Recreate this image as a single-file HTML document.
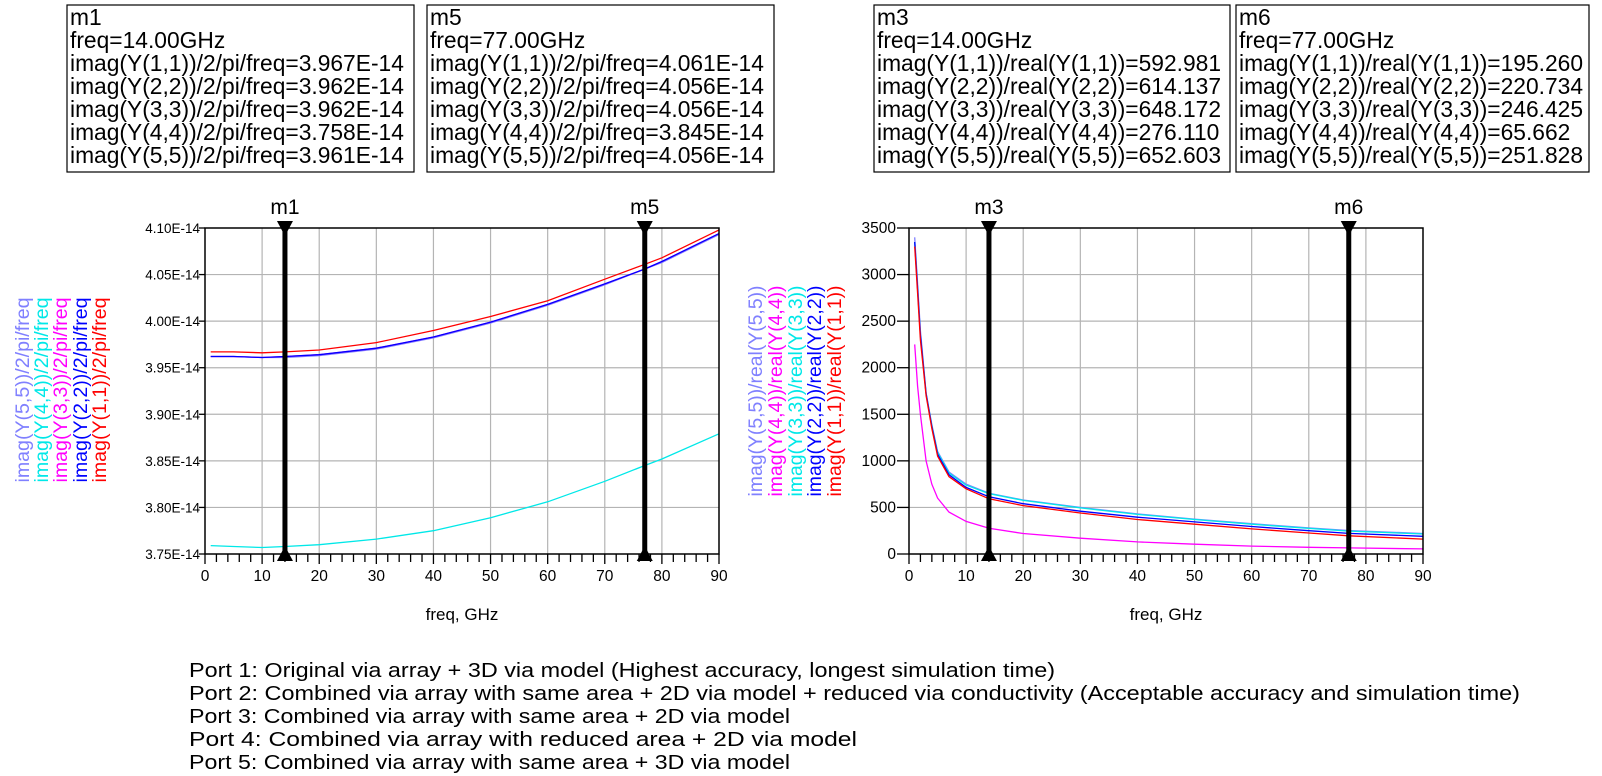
<!DOCTYPE html>
<html><head><meta charset="utf-8"><style>
body{margin:0;background:#fff;width:1602px;height:776px;overflow:hidden}
svg{display:block;font-family:"Liberation Sans",Arial,sans-serif}
</style></head><body>
<svg id="s" width="1602" height="776" viewBox="0 0 1602 776">
<g id="boxes"></g>
<g id="left"></g>
<g id="right"></g>
<g font-size="20" fill="#000">
<text x="189" y="677" textLength="866" lengthAdjust="spacingAndGlyphs">Port 1: Original via array + 3D via model (Highest accuracy, longest simulation time)</text>
<text x="189" y="700" textLength="1331" lengthAdjust="spacingAndGlyphs">Port 2: Combined via array with same area + 2D via model + reduced via conductivity (Acceptable accuracy and simulation time)</text>
<text x="189" y="723" textLength="601" lengthAdjust="spacingAndGlyphs">Port 3: Combined via array with same area + 2D via model</text>
<text x="189" y="746" textLength="668" lengthAdjust="spacingAndGlyphs">Port 4: Combined via array with reduced area + 2D via model</text>
<text x="189" y="769" textLength="601" lengthAdjust="spacingAndGlyphs">Port 5: Combined via array with same area + 3D via model</text>
</g>
</svg>
<script>
// ---- left chart data (imag(Y)/2/pi/freq, units of E-14) ----
const leftFreq = [1,5,10,14,20,30,40,50,60,70,77,80,90];
const leftY11 = [3.967,3.967,3.966,3.967,3.969,3.977,3.990,4.005,4.022,4.045,4.061,4.068,4.098];
const leftY22 = [3.962,3.962,3.961,3.962,3.964,3.971,3.983,3.999,4.018,4.040,4.056,4.064,4.094];
const leftY33 = [3.962,3.962,3.961,3.962,3.964,3.971,3.983,3.999,4.018,4.040,4.056,4.064,4.094];
const leftY44 = [3.759,3.758,3.757,3.758,3.760,3.766,3.775,3.789,3.806,3.828,3.845,3.852,3.879];
const leftY55 = [3.962,3.962,3.961,3.961,3.963,3.970,3.982,3.998,4.017,4.039,4.056,4.063,4.093];
const leftYTicks = [3.75,3.80,3.85,3.90,3.95,4.00,4.05,4.10];
// ---- right chart data (imag(Y)/real(Y)) ----
const rightFreq = [1,1.5,2,3,4,5,7,10,14,20,30,40,50,60,70,77,90];
const rightY11 = [3300,2800,2300,1700,1350,1050,830,700,593,520,440,370,320,270,225,195,160];
const rightY22 = [3350,2850,2350,1720,1370,1070,850,715,614,540,460,395,345,295,250,221,190];
const rightY33 = [3350,2850,2350,1720,1380,1090,870,740,648,575,495,425,370,320,275,246,215];
const rightY44 = [2250,1800,1500,1000,750,600,450,350,276,220,170,130,105,85,72,66,55];
const rightY55 = [3400,2900,2400,1730,1390,1100,880,750,653,580,500,430,375,325,280,252,220];
const rightYTicks = [0,500,1000,1500,2000,2500,3000,3500];
const xTicks = [0,10,20,30,40,50,60,70,80,90];
const markerLeft = [{n:'m1',f:14},{n:'m5',f:77}];
const markerRight = [{n:'m3',f:14},{n:'m6',f:77}];

const NS='http://www.w3.org/2000/svg';
function el(p,t,a,txt){const e=document.createElementNS(NS,t);for(const k in a)e.setAttribute(k,a[k]);if(txt!==undefined)e.textContent=txt;p.appendChild(e);return e;}

const boxes=[
 {x:67,w:347,lines:['m1','freq=14.00GHz','imag(Y(1,1))/2/pi/freq=3.967E-14','imag(Y(2,2))/2/pi/freq=3.962E-14','imag(Y(3,3))/2/pi/freq=3.962E-14','imag(Y(4,4))/2/pi/freq=3.758E-14','imag(Y(5,5))/2/pi/freq=3.961E-14']},
 {x:427,w:347,lines:['m5','freq=77.00GHz','imag(Y(1,1))/2/pi/freq=4.061E-14','imag(Y(2,2))/2/pi/freq=4.056E-14','imag(Y(3,3))/2/pi/freq=4.056E-14','imag(Y(4,4))/2/pi/freq=3.845E-14','imag(Y(5,5))/2/pi/freq=4.056E-14']},
 {x:874,w:356,lines:['m3','freq=14.00GHz','imag(Y(1,1))/real(Y(1,1))=592.981','imag(Y(2,2))/real(Y(2,2))=614.137','imag(Y(3,3))/real(Y(3,3))=648.172','imag(Y(4,4))/real(Y(4,4))=276.110','imag(Y(5,5))/real(Y(5,5))=652.603']},
 {x:1236,w:353,lines:['m6','freq=77.00GHz','imag(Y(1,1))/real(Y(1,1))=195.260','imag(Y(2,2))/real(Y(2,2))=220.734','imag(Y(3,3))/real(Y(3,3))=246.425','imag(Y(4,4))/real(Y(4,4))=65.662','imag(Y(5,5))/real(Y(5,5))=251.828']}
];
const bg=document.getElementById('boxes');
boxes.forEach(b=>{
  const g=el(bg,'g',{});
  
  
  el(g,'rect',{x:b.x,y:5,width:b.w,height:167,fill:'#fff',stroke:'#000','stroke-width':1.2});
  b.lines.forEach((l,i)=>{
    const t=el(g,'text',{x:b.x+3,y:25+i*23,'font-size':22.8,fill:'#000'},l);
    
    
  });
});

function chart(gid,cfg){
  const g=document.getElementById(gid);
  const X0=cfg.x0,X1=cfg.x1,Y0=228,Y1=554;
  const sx=f=>X0+(f-0)/90*(X1-X0);
  const sy=v=>Y1-(v-cfg.ymin)/(cfg.ymax-cfg.ymin)*(Y1-Y0);
  xTicks.forEach(t=>{ if(t>0&&t<90) el(g,'line',{x1:sx(t),x2:sx(t),y1:Y0,y2:Y1,stroke:'#b4b4b4','stroke-width':1.2}); });
  cfg.yticks.forEach(t=>{ if(t>cfg.ymin&&t<cfg.ymax) el(g,'line',{x1:X0,x2:X1,y1:sy(t),y2:sy(t),stroke:'#b4b4b4','stroke-width':1.2}); });
  cfg.yticks.forEach(t=>{
    el(g,'line',{x1:X0-cfg.tick,x2:X0,y1:sy(t),y2:sy(t),stroke:'#000','stroke-width':1.3});
    const tx=el(g,'text',{x:X0-cfg.lab,y:sy(t)+5,'font-size':cfg.yfs,'text-anchor':'end',fill:'#000'},cfg.fmt(t));
    
    
  });
  for(let f=0;f<=90;f+=2){
    el(g,'line',{x1:sx(f),x2:sx(f),y1:Y1,y2:Y1+(f%10===0?10:8),stroke:'#000','stroke-width':1.3});
  }
  xTicks.forEach(t=>{
    const tx=el(g,'text',{x:sx(t),y:Y1+27,'font-size':15.5,'text-anchor':'middle',fill:'#000'},String(t));
    
    
  });
  const xt=el(g,'text',{x:(X0+X1)/2,y:620,'font-size':17,'text-anchor':'middle',fill:'#000'},'freq, GHz');
  
  
  cfg.series.forEach(s=>{
    const pts=cfg.freq.map((f,i)=>sx(f).toFixed(1)+','+sy(s.v[i]).toFixed(1)).join(' ');
    const p=el(g,'polyline',{points:pts,fill:'none',stroke:s.c,'stroke-width':1.3});
    
    
  });
  el(g,'rect',{x:X0,y:Y0,width:X1-X0,height:Y1-Y0,fill:'none',stroke:'#000','stroke-width':1.5});
  cfg.titles.forEach((t,i)=>{
    const x=cfg.tx[i], y=cfg.tyc;
    const tt=el(g,'text',{x:x,y:y,'font-size':19,'text-anchor':'middle',fill:t.c,transform:'rotate(-90 '+x+' '+y+')',textLength:cfg.tlen,lengthAdjust:'spacingAndGlyphs'},t.s);
    
    
  });
  cfg.markers.forEach(m=>{
    const mg=el(g,'g',{});
    
    
    const x=sx(m.f);
    el(mg,'line',{x1:x,x2:x,y1:Y0,y2:Y1,stroke:'#000','stroke-width':5});
    el(mg,'polygon',{points:(x-8)+','+(Y0-7)+' '+(x+8)+','+(Y0-7)+' '+x+','+(Y0+8),fill:'#000'});
    el(mg,'polygon',{points:(x-8)+','+(Y1+7)+' '+(x+8)+','+(Y1+7)+' '+x+','+(Y1-8),fill:'#000'});
    el(mg,'text',{x:x,y:Y0-14,'font-size':21,'text-anchor':'middle',fill:'#000'},m.n);
  });
}

chart('left',{x0:205,x1:719,ymin:3.75,ymax:4.10,yticks:leftYTicks,fmt:t=>t.toFixed(2)+'E-14',tick:6,lab:5,yfs:13.5,
 freq:leftFreq,
 series:[{n:'y55',c:'#8080ff',v:leftY55},{n:'y44',c:'#00e8e8',v:leftY44},{n:'y33',c:'#ff00ff',v:leftY33},{n:'y22',c:'#0000ff',v:leftY22},{n:'y11',c:'#ff0000',v:leftY11}],
 titles:[{s:'imag(Y(5,5))/2/pi/freq',c:'#8080ff'},{s:'imag(Y(4,4))/2/pi/freq',c:'#00e8e8'},{s:'imag(Y(3,3))/2/pi/freq',c:'#ff00ff'},{s:'imag(Y(2,2))/2/pi/freq',c:'#0000ff'},{s:'imag(Y(1,1))/2/pi/freq',c:'#ff0000'}],
 tx:[29,48,67,87,106],tyc:390,tlen:185,markers:markerLeft});

chart('right',{x0:909,x1:1423,ymin:0,ymax:3500,yticks:rightYTicks,fmt:t=>String(t),tick:12,lab:13,yfs:15.5,
 freq:rightFreq,
 series:[{n:'y55',c:'#8080ff',v:rightY55},{n:'y44',c:'#ff00ff',v:rightY44},{n:'y33',c:'#00e8e8',v:rightY33},{n:'y22',c:'#0000ff',v:rightY22},{n:'y11',c:'#ff0000',v:rightY11}],
 titles:[{s:'imag(Y(5,5))/real(Y(5,5))',c:'#8080ff'},{s:'imag(Y(4,4))/real(Y(4,4))',c:'#ff00ff'},{s:'imag(Y(3,3))/real(Y(3,3))',c:'#00e8e8'},{s:'imag(Y(2,2))/real(Y(2,2))',c:'#0000ff'},{s:'imag(Y(1,1))/real(Y(1,1))',c:'#ff0000'}],
 tx:[762,782,802,821,841],tyc:391,tlen:211,markers:markerRight});
</script>
</body></html>
